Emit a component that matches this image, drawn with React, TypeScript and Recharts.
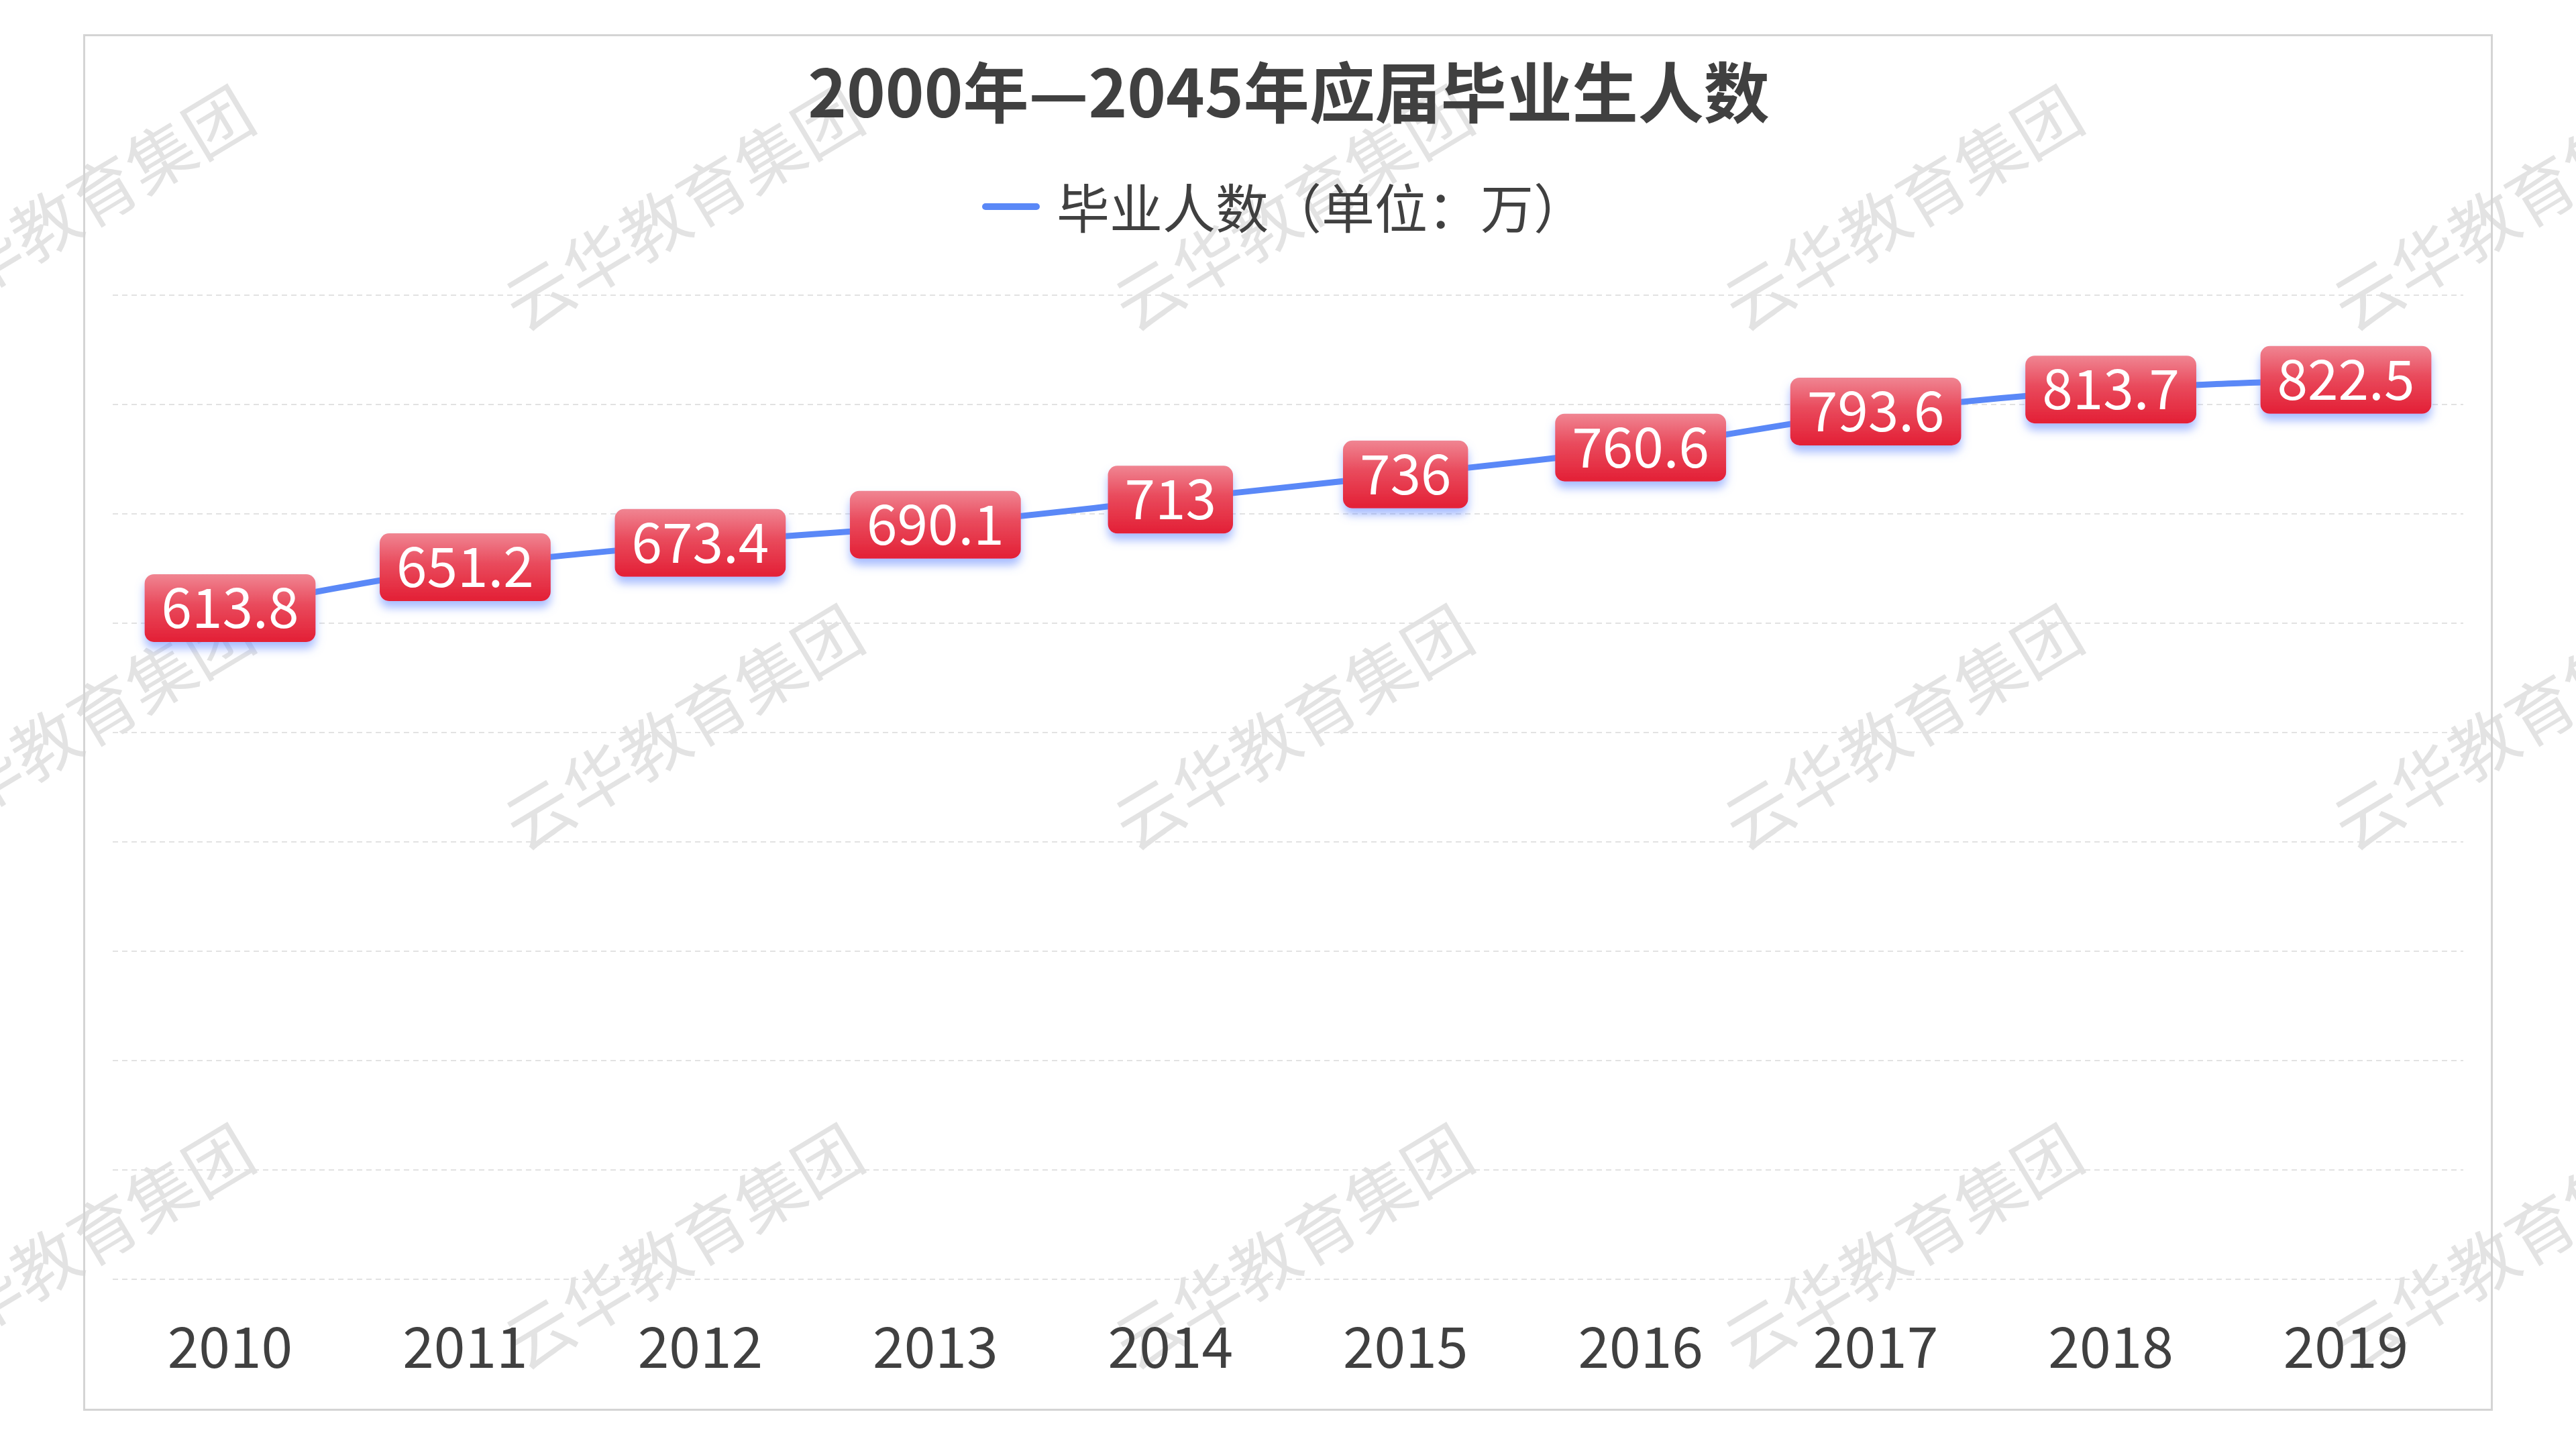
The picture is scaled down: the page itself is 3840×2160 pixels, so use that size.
import React from 'react';
import { LineChart, Line, XAxis, YAxis, CartesianGrid, LabelList } from 'recharts';

// Graduating-class sizes by year (units: 10k people)
const years = ['2010', '2011', '2012', '2013', '2014', '2015', '2016', '2017', '2018', '2019'];
const graduates = [613.8, 651.2, 673.4, 690.1, 713, 736, 760.6, 793.6, 813.7, 822.5];
const yTicks = [0, 100, 200, 300, 400, 500, 600, 700, 800, 900];
const seriesName = '毕业人数（单位：万）';
const chartTitle = '2000年—2045年应届毕业生人数';
const watermarkText = '云华教育集团';

const data = years.map((year, i) => ({ year, value: graduates[i] }));

const W = 3840;
const H = 2160;
const FONT = "'Noto Sans CJK SC', 'Microsoft YaHei', sans-serif";
const TEXT_COLOR = '#404040';
const LINE_COLOR = '#5a88f7';
const LABEL_FS = 82;
const AXIS_FS = 84;

// watermark tile centres
const wmCols = [108, 1016, 1925, 2834, 3742];
const wmRows = [306, 1080, 1854];

let measureCtx: CanvasRenderingContext2D | null = null;
function textWidth(s: string, fs: number): number {
  if (!measureCtx) measureCtx = document.createElement('canvas').getContext('2d');
  if (!measureCtx) return s.length * fs * 0.55;
  measureCtx.font = `${fs}px ${FONT}`;
  return measureCtx.measureText(s).width;
}

function ValueTag(props: any) {
  const { x, y, value } = props;
  if (x == null || y == null) return null;
  const text = String(value);
  const w = textWidth(text, LABEL_FS) + 50;
  const h = 101;
  return (
    <g>
      <rect
        x={x - w / 2}
        y={y - h / 2}
        width={w}
        height={h}
        rx={14}
        ry={14}
        fill="url(#tagFill)"
        filter="url(#tagShadow)"
      />
      <text
        x={x}
        y={y + LABEL_FS * 0.36}
        textAnchor="middle"
        fill="#ffffff"
        fontSize={LABEL_FS}
        fontFamily={FONT}
      >
        {text}
      </text>
    </g>
  );
}

function YearTick(props: any) {
  const { x, y, payload } = props;
  return (
    <text
      x={x}
      y={y + 132}
      textAnchor="middle"
      fill={TEXT_COLOR}
      fontSize={AXIS_FS}
      fontFamily={FONT}
    >
      {payload.value}
    </text>
  );
}

export default function App() {
  return (
    <div
      style={{
        position: 'absolute',
        left: 0,
        top: 0,
        width: W,
        height: H,
        background: '#ffffff',
        overflow: 'hidden',
        fontFamily: FONT,
      }}
    >
      {/* repeated watermark */}
      {wmRows.map((cy) =>
        wmCols.map((cx) => (
          <div
            key={`${cx}-${cy}`}
            style={{
              position: 'absolute',
              left: cx,
              top: cy,
              transform: 'translate(-50%, -50%) rotate(-31deg)',
              fontSize: 100,
              lineHeight: 1,
              color: '#e3e3e3',
              whiteSpace: 'nowrap',
              fontFamily: FONT,
            }}
          >
            {watermarkText}
          </div>
        ))
      )}

      <div style={{ position: 'absolute', left: 0, top: 0 }}>
        <LineChart
          width={W}
          height={H}
          data={data}
          margin={{ top: 440, right: 168, bottom: 103, left: 168 }}
        >
          <defs>
            <linearGradient id="tagFill" x1="0" y1="0" x2="0" y2="1">
              <stop offset="0%" stopColor="#f08592" />
              <stop offset="45%" stopColor="#e94a5c" />
              <stop offset="100%" stopColor="#e31f35" />
            </linearGradient>
            <filter id="tagShadow" x="-30%" y="-40%" width="160%" height="190%">
              <feDropShadow dx="0" dy="10" stdDeviation="7" floodColor="#5f86ff" floodOpacity="0.55" />
            </filter>
          </defs>
          <CartesianGrid
            vertical={false}
            stroke="#e2e2e2"
            strokeWidth={2}
            strokeDasharray="8 6"
          />
          <XAxis
            dataKey="year"
            axisLine={false}
            tickLine={false}
            tickSize={0}
            tickMargin={0}
            height={150}
            padding={{ left: 175, right: 175 }}
            interval={0}
            tick={<YearTick />}
          />
          <YAxis hide domain={[0, 900]} ticks={yTicks} />
          <Line
            type="monotone"
            dataKey="value"
            name={seriesName}
            stroke={LINE_COLOR}
            strokeWidth={9}
            dot={false}
            activeDot={false}
            isAnimationActive={false}
          >
            <LabelList dataKey="value" content={<ValueTag />} />
          </Line>
        </LineChart>
      </div>

      {/* title and legend */}
      <svg
        width={W}
        height={H}
        style={{ position: 'absolute', left: 0, top: 0, pointerEvents: 'none' }}
      >
        <text
          x={1921}
          y={175}
          textAnchor="middle"
          fill={TEXT_COLOR}
          fontSize={98}
          fontWeight="bold"
          fontFamily={FONT}
        >
          {chartTitle}
        </text>
        <rect x={1464} y={303} width={86} height={10} rx={5} ry={5} fill={LINE_COLOR} />
        <text x={1575} y={341} fill={TEXT_COLOR} fontSize={79} fontFamily={FONT}>
          {seriesName}
        </text>
      </svg>

      {/* outer frame */}
      <div
        style={{
          position: 'absolute',
          left: 124,
          top: 51,
          width: 3592,
          height: 2052,
          border: '3px solid #d4d4d4',
          boxSizing: 'border-box',
          pointerEvents: 'none',
        }}
      />
    </div>
  );
}
